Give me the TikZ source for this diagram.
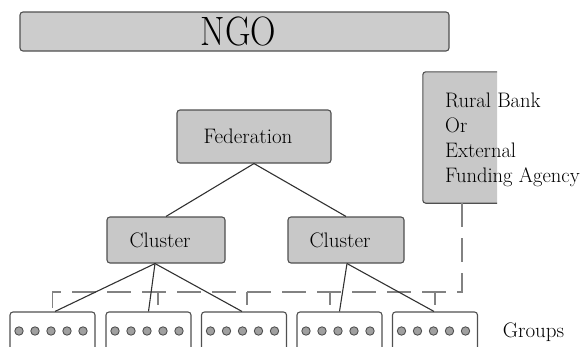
\documentclass[tikz,border=0pt]{standalone}
\usepackage{graphicx}
\definecolor{boxfill}{RGB}{200,200,200}
\definecolor{ngofill}{RGB}{204,204,204}
\definecolor{boxline}{RGB}{80,80,80}
\definecolor{connline}{RGB}{50,50,50}
\definecolor{busline}{RGB}{130,130,130}
\definecolor{dotfill}{RGB}{160,160,160}
\definecolor{dotline}{RGB}{80,80,80}
\newcommand{\nx}[1]{\scalebox{1.0}[1]{#1}}
\begin{document}
\begin{tikzpicture}[x=1pt,y=-1pt,
  box/.style={draw=boxline, fill=boxfill, line width=1.1pt, rounded corners=3pt, inner sep=0pt},
  grp/.style={draw=boxline, fill=white, line width=1.1pt, rounded corners=3pt, minimum width=85pt, minimum height=40pt, inner sep=0pt},
  conn/.style={draw=connline, line width=1.1pt},
  bus/.style={draw=busline, line width=1.4pt, dash pattern=on 24pt off 11pt},
  lbl/.style={font=\fontsize{21}{25}\selectfont}]
\useasboundingbox (0,0) rectangle (582,346);
\clip (0,0) rectangle (582,346);

% NGO bar
\node[box, fill=ngofill, minimum width=429pt, minimum height=39pt] (ngo) at (234.5,31.5)
  {\hspace*{8pt}\fontsize{41}{41}\selectfont\scalebox{0.86}[1]{NGO}};

% Rural bank box (cut on the right)
\node[minimum width=74pt, minimum height=131pt, inner sep=0pt] (rural) at (460,137.5) {};
\fill[boxfill] (rural.north east) [rounded corners=3pt] -- (rural.north west) -- (rural.south west) [sharp corners] -- (rural.south east) -- cycle;
\draw[draw=boxline, line width=1.1pt] (rural.north east) [rounded corners=3pt] -- (rural.north west) -- (rural.south west) [sharp corners] -- (rural.south east);
\node[font=\fontsize{21}{25}\selectfont, anchor=west, inner sep=0pt] (ruraltext) at (445,140)
  {\scalebox{0.98}[1]{\begin{tabular}{@{}l@{}}Rural Bank\\Or\\External\\Funding Agency\end{tabular}}};

% Hierarchy
\node[box, lbl, minimum width=154pt, minimum height=53pt] (fed) at (254,136.5) {\hspace*{-12pt}\nx{Federation}};
\node[box, lbl, minimum width=118pt, minimum height=46pt] (c1) at (166,240) {\hspace*{-12pt}\nx{Cluster}};
\node[box, lbl, minimum width=116pt, minimum height=46pt] (c2) at (346,240) {\hspace*{-12pt}\nx{Cluster}};

% Groups
\foreach \i/\x in {1/52.5, 2/148.5, 3/244, 4/339.5, 5/435} {
  \node[grp] (g\i) at (\x,332) {};
  \foreach \k in {-2,...,2}
    \filldraw[fill=dotfill, draw=dotline, line width=0.9pt] (\x+\k*16-1.5,331) circle (4.2pt);
}
\node[lbl] (groups) at (533.5,332) {Groups};

% Dashed link from the bank to the groups
\coordinate (busR) at (462,292);
\draw[bus] (busR |- rural.south) -- (busR) -- (busR -| g1.north) -- (g1.north);
\coordinate (t2) at ([xshift=9.5pt]g2.north);
\coordinate (t3) at ([xshift=3pt]g3.north);
\coordinate (t4) at ([xshift=-9.5pt]g4.north);
\coordinate (t5) at (g5.north);
\foreach \t in {t2,t3,t4,t5}
  \draw[bus, dash pattern=on 13pt off 20pt] (\t |- busR) -- (\t);

% Connectors
\draw[conn] (fed.south) -- (c1.north);
\draw[conn] (fed.south) -- (c2.north);
\draw[conn] ([xshift=-11pt]c1.south) -- ([xshift=2.5pt]g1.north);
\draw[conn] ([xshift=-11pt]c1.south) -- (g2.north);
\draw[conn] ([xshift=-11pt]c1.south) -- ([xshift=-2pt]g3.north);
\draw[conn] ([xshift=1pt]c2.south) -- (g4.north);
\draw[conn] ([xshift=1pt]c2.south) -- ([xshift=-1pt]g5.north);
\end{tikzpicture}
\end{document}
